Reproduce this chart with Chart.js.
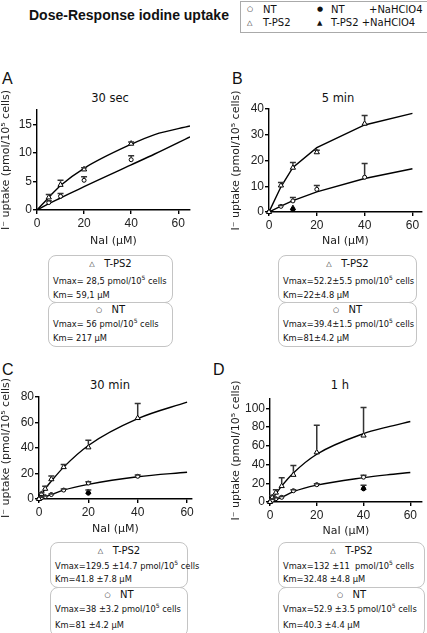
<!DOCTYPE html>
<html>
<head>
<meta charset="utf-8">
<script src="https://cdn.jsdelivr.net/npm/chart.js@4.4.1/dist/chart.umd.min.js"></script>
<style>
  html, body { margin: 0; padding: 0; background: #fff; }
  body { width: 427px; height: 633px; position: relative; overflow: hidden; font-family: "DejaVu Sans", sans-serif; color: #111; }
  .abs { position: absolute; }
  .main-title { left: 29px; top: 7px; font: bold 14px "Liberation Sans", Arial, sans-serif; }
  .legend { left: 240px; top: 1px; width: 190px; height: 30px; border: 1px solid #aaa; font-size: 10px; }
  .legend span { position: absolute; white-space: nowrap; }
  .legend .sym { font-size: 7px; top: 4px; }
  .letter { font: 16px "Liberation Sans", Arial, sans-serif; }
  .ptitle { font-size: 11.5px; transform: translateX(-50%); white-space: nowrap; }
  .box { border: 1px solid #c4c4c4; border-radius: 8px; font-size: 8.3px; box-sizing: border-box; }
  .box div { position: absolute; left: 4px; white-space: nowrap; }
  .box .head { left: 0; right: 0; text-align: center; font-size: 10px; }
  .box .head small { font-size: 7px; vertical-align: 1px; }
  sup { font-size: 6px; vertical-align: 4px; line-height: 0; }
  canvas { position: absolute; }
</style>
</head>
<body>
<div class="abs main-title">Dose-Response iodine uptake</div>
<div class="abs legend">
  <span class="sym" style="left:6px;top:3px">○</span><span style="left:22px;top:2px">NT</span>
  <span class="sym" style="left:6px;top:17px">△</span><span style="left:22px;top:15px">T-PS2</span>
  <span class="sym" style="left:76px;top:3px">●</span><span style="left:90px;top:2px">NT</span><span style="left:128px;top:2px">+NaHClO4</span>
  <span class="sym" style="left:76px;top:17px">▲</span><span style="left:90px;top:15px">T-PS2 +NaHClO4</span>
</div>

<div class="abs letter" style="left:2px;top:70px">A</div>
<div class="abs letter" style="left:232px;top:70px">B</div>
<div class="abs letter" style="left:2px;top:361px">C</div>
<div class="abs letter" style="left:213px;top:361px">D</div>

<div class="abs ptitle" style="left:110px;top:91px">30 sec</div>
<div class="abs ptitle" style="left:338px;top:91px">5 min</div>
<div class="abs ptitle" style="left:110px;top:378px">30 min</div>
<div class="abs ptitle" style="left:340px;top:378px">1 h</div>

<canvas id="chartA" style="left:0;top:80px" width="200" height="170"></canvas>
<canvas id="chartB" style="left:230px;top:80px" width="197" height="170"></canvas>
<canvas id="chartC" style="left:0;top:368px" width="200" height="170"></canvas>
<canvas id="chartD" style="left:230px;top:370px" width="197" height="170"></canvas>

<div class="abs box" style="left:48px;top:255px;width:125px;height:48px">
  <div class="head" style="top:2px"><small>△</small>&nbsp;&nbsp; T-PS2</div>
  <div style="top:20px">Vmax= 28,5 pmol/10<sup>5</sup> cells</div>
  <div style="top:34px">Km= 59,1 μM</div>
</div>
<div class="abs box" style="left:48px;top:302px;width:125px;height:45px">
  <div class="head" style="top:1px"><small>○</small>&nbsp;&nbsp; NT</div>
  <div style="top:16px">Vmax= 56 pmol/10<sup>5</sup> cells</div>
  <div style="top:30px">Km= 217 μM</div>
</div>
<div class="abs box" style="left:278px;top:255px;width:139px;height:48px">
  <div class="head" style="top:2px"><small>△</small>&nbsp;&nbsp; T-PS2</div>
  <div style="top:20px">Vmax=52.2±5.5 pmol/10<sup>5</sup> cells</div>
  <div style="top:34px">Km=22±4.8 μM</div>
</div>
<div class="abs box" style="left:278px;top:302px;width:139px;height:45px">
  <div class="head" style="top:1px"><small>○</small>&nbsp;&nbsp; NT</div>
  <div style="top:16px">Vmax=39.4±1.5 pmol/10<sup>5</sup> cells</div>
  <div style="top:30px">Km=81±4.2 μM</div>
</div>
<div class="abs box" style="left:50px;top:542px;width:138px;height:46px">
  <div class="head" style="top:2px"><small>△</small>&nbsp;&nbsp; T-PS2</div>
  <div style="top:18px">Vmax=129.5 ±14.7 pmol/10<sup>5</sup> cells</div>
  <div style="top:31px">Km=41.8 ±7.8 μM</div>
</div>
<div class="abs box" style="left:50px;top:587px;width:138px;height:50px">
  <div class="head" style="top:1px"><small>○</small>&nbsp;&nbsp; NT</div>
  <div style="top:16px">Vmax=38 ±3.2 pmol/10<sup>5</sup> cells</div>
  <div style="top:32px">Km=81 ±4.2 μM</div>
</div>
<div class="abs box" style="left:278px;top:542px;width:147px;height:46px">
  <div class="head" style="top:2px"><small>△</small>&nbsp;&nbsp; T-PS2</div>
  <div style="top:18px">Vmax=132 ±11&nbsp; pmol/10<sup>5</sup> cells</div>
  <div style="top:31px">Km=32.48 ±4.8 μM</div>
</div>
<div class="abs box" style="left:278px;top:587px;width:147px;height:50px">
  <div class="head" style="top:1px"><small>○</small>&nbsp;&nbsp; NT</div>
  <div style="top:16px">Vmax=52.9 ±3.5 pmol/10<sup>5</sup> cells</div>
  <div style="top:32px">Km=40.3 ±4.4 μM</div>
</div>

<script>
// Panel A - 30 sec
const doseA = [5, 10, 20, 40];
const tps2A = [2.2, 4.4, 7.1, 11.6];
const tps2ErrA = [0.5, 0.8, 0.3, 0.3];
const ntA = [1.3, 2.4, 5.2, 8.8];
const ntErrA = [0.3, 0.5, 0.6, 0.7];
const fitXA = [0, 5, 10, 20, 40, 50, 65];
const fitTps2A = [0, 2.2, 4.3, 7.3, 11.5, 13.2, 14.7];
const fitNtA = [0, 1.1, 2.1, 4.1, 7.9, 9.8, 12.8];

// Panel B - 5 min
const doseB = [0, 5, 10, 20, 40];
const tps2B = [0, 10.3, 17.2, 23.2, 34.3];
const tps2ErrB = [0, 1.2, 2.0, 0.8, 3.2];
const ntB = [0, 2.2, 4.3, 8.8, 13.5];
const ntErrB = [0, 0.3, 1.3, 1.5, 5.3];
const fitXB = [0, 5, 10, 20, 40, 60];
const fitTps2B = [0, 9.8, 17.3, 25, 33.8, 38.3];
const fitNtB = [0, 2.3, 4.4, 7.8, 13, 16.8];
const clo4DoseB = [10];
const tps2Clo4B = [1.5];
const ntClo4B = [0.9];

// Panel C - 30 min
const doseC = [0, 1, 2.5, 5, 10, 20, 40];
const tps2C = [0, 4, 8, 15.5, 25, 40.5, 63.5];
const tps2ErrC = [0, 1, 2, 2.5, 2, 5.5, 11.5];
const ntC = [0, 1, 1.8, 3.5, 7, 12.5, 17.8];
const ntErrC = [0, 0.3, 0.5, 0.5, 0.8, 1, 1];
const fitXC = [0, 2.5, 5, 10, 20, 40, 60];
const fitTps2C = [0, 8, 14, 25, 42, 63, 76];
const fitNtC = [0, 1.7, 3.4, 7, 11.5, 17.5, 21];
const clo4DoseC = [20];
const tps2Clo4C = [5.5];
const tps2Clo4ErrC = [1.5];
const ntClo4C = [4.5];

// Panel D - 1 h
const doseD = [0, 1, 2.5, 5, 10, 20, 40];
const tps2D = [0, 5, 10, 17, 29, 53, 71];
const tps2ErrD = [0, 2, 3, 9, 10, 29, 30];
const ntD = [0, 2, 3.5, 5, 12, 18.5, 26.5];
const ntErrD = [0, 1, 1, 1, 1, 1, 2];
const fitXD = [0, 5, 10, 20, 40, 50, 60];
const fitTps2D = [0, 17, 31, 51, 73, 80, 86];
const fitNtD = [0, 5, 11, 18, 26, 29, 31.5];
const clo4DoseD = [40];
const tps2Clo4D = [15];
const tps2Clo4ErrD = [3];
const ntClo4D = [14];

const xTicks = [0, 20, 40, 60];

function pts(xs, ys) {
    return xs.map((x, i) => ({ x: x, y: ys[i] }));
}

// draws upward error bars with a cap, using the chart scales
const errorBars = {
    id: 'errorBars',
    afterDatasetsDraw(chart) {
        const ctx = chart.ctx;
        const yScale = chart.scales.y;
        chart.data.datasets.forEach((ds, i) => {
            if (!ds.errUp) return;
            const meta = chart.getDatasetMeta(i);
            meta.data.forEach((el, j) => {
                const err = ds.errUp[j];
                if (!err) return;
                const yTop = yScale.getPixelForValue(ds.data[j].y + err);
                const yBase = el.y - (ds.pointStyle === 'triangle' ? 3 : 2);
                ctx.save();
                ctx.strokeStyle = '#333';
                ctx.lineWidth = 1.5;
                ctx.beginPath();
                ctx.moveTo(el.x, yBase);
                ctx.lineTo(el.x, yTop);
                ctx.moveTo(el.x - 3, yTop);
                ctx.lineTo(el.x + 3, yTop);
                ctx.stroke();
                ctx.restore();
            });
        });
    }
};

function fitLine(xs, ys, smooth) {
    return {
        data: pts(xs, ys),
        showLine: true,
        pointRadius: 0,
        borderColor: '#000',
        borderWidth: 1.4,
        cubicInterpolationMode: smooth ? 'monotone' : 'default',
        tension: 0,
        order: 2
    };
}

function markers(xs, ys, errs, style, filled) {
    return {
        data: pts(xs, ys),
        errUp: errs,
        showLine: false,
        pointStyle: style,
        pointRadius: style === 'triangle' ? 3 : 2,
        pointBorderWidth: 1,
        pointBorderColor: '#000',
        pointBackgroundColor: filled ? '#000' : '#fff',
        clip: false,
        order: 1
    };
}

function makeChart(id, opts) {
    const tickFont = { family: 'Liberation Sans', size: 12 };
    const titleFont = { family: 'DejaVu Sans', size: 11 };
    return new Chart(document.getElementById(id), {
        type: 'scatter',
        data: { datasets: opts.datasets },
        options: {
            responsive: false,
            animation: false,
            layout: { padding: { top: opts.padTop, right: opts.padRight, left: 0, bottom: 0 } },
            plugins: { legend: { display: false }, tooltip: { enabled: false } },
            scales: {
                x: {
                    type: 'linear',
                    min: 0,
                    max: opts.xMax,
                    afterBuildTicks: s => { s.ticks = xTicks.map(v => ({ value: v })); },
                    afterFit: s => { s.height = opts.xHeight; },
                    grid: { drawOnChartArea: false, drawTicks: true, tickLength: 4, color: '#000', lineWidth: 1.4 },
                    border: { color: '#000', width: 1.4 },
                    ticks: { color: '#222', font: tickFont, padding: 2 },
                    title: { display: true, text: 'NaI (μM)', color: '#222', font: titleFont, padding: { top: 2, bottom: 2 } }
                },
                y: {
                    type: 'linear',
                    min: 0,
                    max: opts.yMax,
                    afterBuildTicks: s => { s.ticks = opts.yTicks.map(v => ({ value: v })); },
                    afterFit: s => { s.width = opts.yWidth; },
                    grid: { drawOnChartArea: false, drawTicks: true, tickLength: 4, color: '#000', lineWidth: 1.4 },
                    border: { color: '#000', width: 1.4 },
                    ticks: { color: '#222', font: tickFont, padding: 1 },
                    title: { display: true, text: 'I⁻ uptake (pmol/10⁵ cells)', color: '#222', font: titleFont, padding: { top: 0, bottom: 1 } }
                }
            }
        },
        plugins: [errorBars]
    });
}

makeChart('chartA', {
    xMax: 65, yMax: 17.5, yTicks: [0, 5, 10, 15],
    yWidth: 37, xHeight: 40, padTop: 30, padRight: 10,
    datasets: [
        fitLine(fitXA, fitTps2A, true),
        fitLine(fitXA, fitNtA, true),
        markers(doseA, tps2A, tps2ErrA, 'triangle', false),
        markers(doseA, ntA, ntErrA, 'circle', false)
    ]
});

makeChart('chartB', {
    xMax: 64, yMax: 40, yTicks: [0, 10, 20, 30, 40],
    yWidth: 39, xHeight: 38, padTop: 29, padRight: 4,
    datasets: [
        fitLine(fitXB, fitTps2B, false),
        fitLine(fitXB, fitNtB, false),
        markers(doseB, tps2B, tps2ErrB, 'triangle', false),
        markers(doseB, ntB, ntErrB, 'circle', false),
        markers(clo4DoseB, tps2Clo4B, [0], 'triangle', true),
        markers(clo4DoseB, ntClo4B, [0], 'circle', true)
    ]
});

makeChart('chartC', {
    xMax: 62, yMax: 80, yTicks: [0, 20, 40, 60, 80],
    yWidth: 39, xHeight: 39, padTop: 29, padRight: 8,
    datasets: [
        fitLine(fitXC, fitTps2C, true),
        fitLine(fitXC, fitNtC, true),
        markers(doseC, tps2C, tps2ErrC, 'triangle', false),
        markers(doseC, ntC, ntErrC, 'circle', false),
        markers(clo4DoseC, tps2Clo4C, tps2Clo4ErrC, 'triangle', true),
        markers(clo4DoseC, ntClo4C, [0], 'circle', true)
    ]
});

makeChart('chartD', {
    xMax: 65, yMax: 110, yTicks: [0, 20, 40, 60, 80, 100],
    yWidth: 40, xHeight: 38, padTop: 29, padRight: 4,
    datasets: [
        fitLine(fitXD, fitTps2D, true),
        fitLine(fitXD, fitNtD, true),
        markers(doseD, tps2D, tps2ErrD, 'triangle', false),
        markers(doseD, ntD, ntErrD, 'circle', false),
        markers(clo4DoseD, tps2Clo4D, tps2Clo4ErrD, 'triangle', true),
        markers(clo4DoseD, ntClo4D, [0], 'circle', true)
    ]
});
</script>
</body>
</html>
